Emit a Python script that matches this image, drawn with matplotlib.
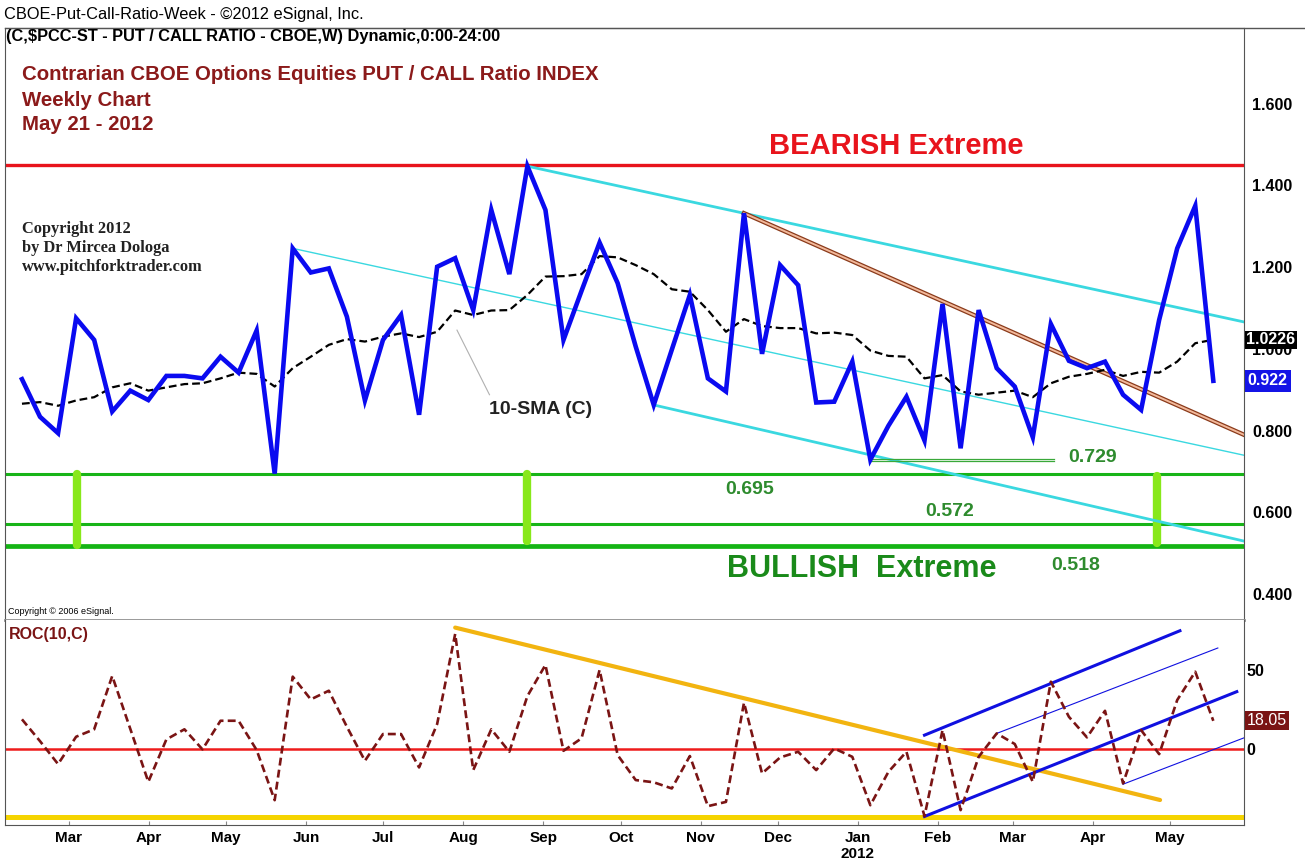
import numpy as np
import pandas as pd
import matplotlib
matplotlib.use("Agg")
import matplotlib.pyplot as plt

plt.rcParams['font.family'] = ['Liberation Sans', 'DejaVu Sans']

# weekly put/call ratio, first bar 2011-02-14, last bar 2012-05-21
start = pd.Timestamp('2011-02-14')
ratio = [0.926, 0.834, 0.794, 1.075, 1.022, 0.847, 0.898, 0.875, 0.934, 0.934,
         0.928, 0.981, 0.942, 1.045, 0.695, 1.246, 1.187, 1.197, 1.079, 0.874,
         1.022, 1.083, 0.839, 1.201, 1.222, 1.095, 1.340, 1.183, 1.447, 1.340,
         1.022, 1.142, 1.260, 1.161, 1.006, 0.863, 0.998, 1.132, 0.928, 0.896,
         1.332, 0.988, 1.205, 1.156, 0.869, 0.871, 0.969, 0.729, 0.812, 0.883,
         0.776, 1.110, 0.757, 1.095, 0.953, 0.908, 0.784, 1.061, 0.971, 0.953,
         0.969, 0.888, 0.851, 1.071, 1.246, 1.350, 0.922]
sma10 = [0.866, 0.870, 0.861, 0.874, 0.882, 0.906, 0.916, 0.898, 0.906, 0.914,
         0.916, 0.928, 0.942, 0.939, 0.908, 0.953, 0.981, 1.010, 1.024, 1.018,
         1.030, 1.038, 1.029, 1.042, 1.094, 1.083, 1.094, 1.095, 1.132, 1.177,
         1.178, 1.183, 1.227, 1.224, 1.205, 1.183, 1.146, 1.140, 1.095, 1.042,
         1.073, 1.056, 1.051, 1.051, 1.038, 1.040, 1.034, 0.996, 0.983, 0.981,
         0.928, 0.936, 0.896, 0.888, 0.893, 0.898, 0.882, 0.916, 0.932, 0.939,
         0.949, 0.934, 0.944, 0.942, 0.969, 1.014, 1.0226]
roc10 = [19.0, 5.2, -9.3, 8.0, 12.7, 46.4, 13.0, -20.5, 6.3, 12.7,
         0.0, 18.1, 18.1, -0.4, -32.1, 46.0, 31.6, 37.1, 14.3, -7.2,
         9.7, 9.7, -11.4, 16.0, 73.0, -13.1, 12.7, -1.5, 33.7, 53.4,
         -0.9, 7.0, 50.2, -3.6, -19.4, -20.8, -24.7, -4.2, -35.9, -33.2,
         29.5, -15.2, -5.1, -1.5, -13.1, 0.6, -4.7, -35.3, -14.2, -1.5,
         -42.2, 12.2, -38.4, -4.7, 10.1, 3.4, -20.5, 42.8, 20.6, 7.6,
         24.4, -21.5, 12.2, -3.0, 31.2, 49.1, 18.05]

months = ['2011-03-01', '2011-04-01', '2011-05-01', '2011-06-01', '2011-07-01',
          '2011-08-01', '2011-09-01', '2011-10-01', '2011-11-01', '2011-12-01',
          '2012-01-01', '2012-02-01', '2012-03-01', '2012-04-01', '2012-05-01']
month_labels = ['Mar', 'Apr', 'May', 'Jun', 'Jul', 'Aug', 'Sep', 'Oct', 'Nov',
                'Dec', 'Jan\n2012', 'Feb', 'Mar', 'Apr', 'May']

bearish = 1.45
support = [0.695, 0.572, 0.518]
weeks = np.arange(len(ratio))
month_pos = [(pd.Timestamp(m) - start).days / 7 + 0.45 for m in months]

W, H = 1305, 861
fig = plt.figure(figsize=(W / 100, H / 100), dpi=100)

def fx(px):
    return px / W

def fy(py):
    return 1 - py / H

xmin, xmax = -0.94, 67.7
ax = fig.add_axes([fx(5), fy(620), fx(1244) - fx(5), fy(28) - fy(620)])
ax2 = fig.add_axes([fx(5), fy(825), fx(1244) - fx(5), fy(620) - fy(825)], sharex=ax)

# ---- top panel
ax.set_xlim(xmin, xmax)
ax.set_ylim(0.337, 1.785)
ax.axhline(bearish, color='#e8141c', lw=2.4)
ax.axhline(support[0], color='#18b418', lw=2.2)
ax.axhline(support[1], color='#18b418', lw=2.2)
ax.axhline(support[2], color='#14b414', lw=3.4)
for xb, y0, y1 in [(3.05, 0.693, 0.520), (28.0, 0.693, 0.530), (62.9, 0.690, 0.525)]:
    ax.plot([xb, xb], [y0, y1], color='#88e81a', lw=6, solid_capstyle='round')

ax.plot([28, 67.7], [1.447, 1.066], color='#3ad8e0', lw=2.0)
ax.plot([15, 67.7], [1.246, 0.740], color='#3ad8e0', lw=1.0)
ax.plot([35, 67.7], [0.863, 0.530], color='#3ad8e0', lw=2.0)
ax.plot([40, 67.7], [1.332, 0.790], color='#8a3a1a', lw=3.2)
ax.plot([40, 67.7], [1.332, 0.790], color='#f2b89a', lw=1.4)
ax.plot([47, 57.2], [0.732, 0.732], color='#3aa83a', lw=0.9)
ax.plot([47, 57.2], [0.725, 0.725], color='#3aa83a', lw=0.9)

ax.plot(weeks, sma10, color='black', lw=1.6, ls=(0, (3.5, 1.8)))
ax.plot(weeks, ratio, color='#0a0af0', lw=3.3, solid_joinstyle='miter')
ax.plot([24.1, 25.9], [1.046, 0.888], color='#b0b0b0', lw=0.8)

ax.yaxis.tick_right()
ax.set_yticks([0.4, 0.6, 0.8, 1.0, 1.2, 1.4, 1.6])
ax.set_yticklabels(['0.400', '0.600', '0.800', '1.000', '1.200', '1.400', '1.600'],
                   fontsize=11.5, fontweight='bold')
ax.tick_params(axis='y', length=0, pad=6)
ax.tick_params(axis='x', length=0, labelbottom=False)
for s in ['top', 'left', 'right']:
    ax.spines[s].set_color('#555555')
ax.spines['bottom'].set_color('#909090')
ax.spines['bottom'].set_linewidth(2)

ax.text(1.002, 1.0226, '1.0226', transform=ax.get_yaxis_transform(), fontsize=11.5,
        fontweight='bold', color='white', va='center', ha='left', zorder=10,
        bbox=dict(boxstyle='square,pad=0.1', fc='black', ec='none'))
ax.text(1.003, 0.922, '0.922', transform=ax.get_yaxis_transform(), fontsize=11.5,
        fontweight='bold', color='white', va='center', ha='left',
        bbox=dict(boxstyle='square,pad=0.2', fc='#1414e6', ec='none'))

# ---- bottom panel
ax2.set_ylim(-47.8, 81.8)
ax2.axhline(0, color='#ee1c1c', lw=1.8)
ax2.axhline(-43, color='#f5d400', lw=3.6)
ax2.plot([24, 63.05], [77, -32], color='#f2b410', lw=3.0, solid_capstyle='round')
ax2.plot([50, 64.15], [9, 75], color='#1010e0', lw=2.2)
ax2.plot([50, 67.3], [-42.4, 36.5], color='#1010e0', lw=2.2)
ax2.plot([54, 66.25], [10.1, 64.1], color='#1010e0', lw=0.8)
ax2.plot([61, 67.7], [-22, 7.3], color='#1010e0', lw=0.8)
ax2.plot(weeks, roc10, color='#7a1414', lw=1.9, ls=(0, (3, 1.6)))

ax2.yaxis.tick_right()
ax2.set_yticks([0, 50])
ax2.set_yticklabels(['0', '50'], fontsize=11.5, fontweight='bold')
ax2.tick_params(axis='y', length=0, pad=2)
ax2.set_xticks(month_pos)
ax2.set_xticklabels(month_labels, fontsize=11, fontweight='bold', linespacing=1.2)
ax2.tick_params(axis='x', length=3, color='#888888', pad=4, direction='in')
for s in ['top', 'left', 'right', 'bottom']:
    ax2.spines[s].set_color('#555555')
ax2.spines['top'].set_visible(False)
ax2.text(1.002, 18.05, '18.05', transform=ax2.get_yaxis_transform(), fontsize=11.5,
         color='white', va='center', ha='left',
         bbox=dict(boxstyle='square,pad=0.12', fc='#7a1414', ec='none'))
ax2.text(0.003, 0.93, 'ROC(10,C)', transform=ax2.transAxes, fontsize=11.5,
         fontweight='bold', color='#7a1414', va='center')

# ---- texts
fig.text(fx(4), fy(14), 'CBOE-Put-Call-Ratio-Week - \u00a92012 eSignal, Inc.',
         fontsize=11.8, va='center')
fig.add_artist(plt.Line2D([fx(5), 1], [fy(28), fy(28)], color='#555555', lw=1))
fig.text(fx(6), fy(37), '(C,$PCC-ST - PUT / CALL RATIO - CBOE,W) Dynamic,0:00-24:00',
         fontsize=11.8, fontweight='bold', va='center')
for t, y in [('Contrarian CBOE Options Equities PUT / CALL Ratio INDEX', 74),
             ('Weekly Chart', 100), ('May 21 - 2012', 125)]:
    fig.text(fx(22), fy(y), t, fontsize=14.7, fontweight='bold', color='#8b1a1a', va='center')
for t, y in [('Copyright 2012', 229), ('by Dr Mircea Dologa', 248),
             ('www.pitchforktrader.com', 267)]:
    fig.text(fx(22), fy(y), t, fontsize=11.8, fontweight='bold',
             family='Liberation Serif', color='#222222', va='center')
fig.text(fx(896), fy(146), 'BEARISH Extreme', fontsize=21, fontweight='bold',
         color='#e8141c', ha='center', va='center')
fig.text(fx(862), fy(569), 'BULLISH  Extreme', fontsize=22, fontweight='bold',
         color='#1a8a1a', ha='center', va='center')
green_txt = '#2e8b2e'
for t, px, py in [('0.729', 1093, 458), ('0.695', 750, 489),
                  ('0.572', 950, 512), ('0.518', 1076, 566)]:
    fig.text(fx(px), fy(py), t, fontsize=14, fontweight='bold', color=green_txt,
             ha='center', va='center')
fig.text(fx(541), fy(410), '10-SMA (C)', fontsize=14, fontweight='bold',
         color='#222222', ha='center', va='center')
fig.text(fx(8), fy(611), 'Copyright \u00a9 2006 eSignal.', fontsize=6.5, va='center')

fig.savefig('out.png', dpi=100)
